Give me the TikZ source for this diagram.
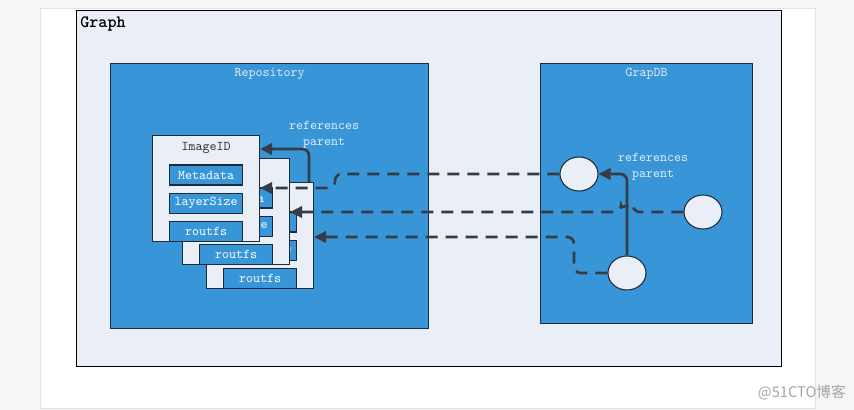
\documentclass[tikz,border=0pt]{standalone}
\usepackage{fontspec}
\newfontfamily\cjkfont{Noto Sans CJK SC}
\usetikzlibrary{positioning, arrows.meta, calc, shapes.geometric}

\definecolor{pagebg}{HTML}{F6F6F6}
\definecolor{panelline}{HTML}{E4E4E4}
\definecolor{graphbg}{HTML}{E9EEF7}
\definecolor{boxblue}{HTML}{3896D8}
\definecolor{edge}{HTML}{1E2B38}
\definecolor{wire}{HTML}{333D48}
\definecolor{pale}{HTML}{E2EBF5}
\definecolor{ink}{HTML}{333333}

\tikzset{
    container/.style={draw=edge, line width=0.8pt, fill=boxblue, anchor=north west, inner sep=0pt},
    card/.style={draw=edge, line width=0.8pt, fill=graphbg, anchor=north west, inner sep=0pt,
        minimum width=80.25pt, minimum height=79.5pt},
    field/.style={draw=edge, line width=0.8pt, fill=boxblue, text=white, inner sep=0pt,
        minimum width=54.75pt, minimum height=15pt, font=\ttfamily\fontsize{10}{12}\selectfont},
    vertex/.style={ellipse, draw=edge, line width=0.8pt, fill=graphbg, inner sep=0pt,
        minimum width=28.5pt, minimum height=25.5pt},
    caption/.style={text=pale, inner sep=0pt, align=center, font=\ttfamily\fontsize{10}{12}\selectfont},
    link/.style={->, draw=wire, line width=2pt, rounded corners=5pt},
    dlink/.style={->, draw=wire, line width=2pt, dash pattern=on 9pt off 6pt, rounded corners=5pt}
}

\begin{document}
\begin{tikzpicture}[>={Triangle[length=9pt,width=8.5pt]}, x=0.75pt, y=-0.75pt]

    % Page and panel
    \useasboundingbox (0,0) rectangle (854,410);
    \fill[pagebg] (0,0) rectangle (854,410);
    \node[draw=panelline, fill=white, anchor=north west, inner sep=0pt,
        minimum width=581.25pt, minimum height=300pt] (panel) at (40,8) {};

    % Graph frame
    \node[draw=black, line width=0.8pt, fill=graphbg, anchor=north west, inner sep=0pt,
        minimum width=528.75pt, minimum height=267pt] (graph) at (76,10) {};
    \node[anchor=north west, inner sep=0pt, font=\ttfamily\bfseries\fontsize{13}{15}\selectfont] (gtitle) at (80,16) {Graph};

    % Repository and GrapDB
    \node[container, minimum width=238.5pt, minimum height=198.75pt] (repo) at (110,63) {};
    \node[caption, below=4pt of repo.north] (repotitle) {Repository};
    \node[container, minimum width=159pt, minimum height=195pt] (gdb) at (540,63) {};
    \node[caption, below=4pt of gdb.north] (gdbtitle) {GrapDB};

    % Image layers, back to front
    \foreach \n/\x/\y in {3/206/182, 2/182/158, 1/152/135} {
        \node[card] (card\n) at (\x,\y) {};
        \node[below=5pt of card\n.north, inner sep=0pt, text=ink,
            font=\ttfamily\fontsize{10}{12}\selectfont] (id\n) {ImageID};
        \node[field] (meta\n) at ($(card\n.north)+(0,40)$) {Metadata};
        \node[field, below=5.25pt of meta\n] (size\n) {layerSize};
        \node[field, below=5.25pt of size\n] (fs\n) {routfs};
    }

    % Graph vertices
    \node[vertex] (n1) at (579,174) {};
    \node[vertex] (n2) at (703,212) {};
    \node[vertex] (n3) at (627,273) {};

    % Layer lookups from GrapDB
    \coordinate (d1) at (335,188);
    \draw[dlink] (n1.west) -| (d1) -- (card1.east |- d1);
    \draw[dlink] (n2.west) -- (633,212) arc (0:-180:6) -- (card2.east |- n2);
    \coordinate (d3) at (574,237);
    \draw[dlink] (n3.west) -| (d3) -- (card3.east |- d3);

    % Parent references
    \coordinate (r1) at ($(card3.north east)+(-5,0)$);
    \coordinate (t1) at ($(card1.north east)+(0,14)$);
    \draw[link] (r1) |- (t1);
    \node[caption] (ref1) at (324,135) {references\\parent};
    \draw[link] (n3.north) |- (n1.east);
    \node[caption] (ref2) at (653,167) {references\\parent};

    % Watermark
    \node[anchor=east, inner sep=0pt, text=black!35, font=\cjkfont\fontsize{11}{13}\selectfont] (mark) at (846,393) {@51CTO博客};

\end{tikzpicture}
\end{document}
